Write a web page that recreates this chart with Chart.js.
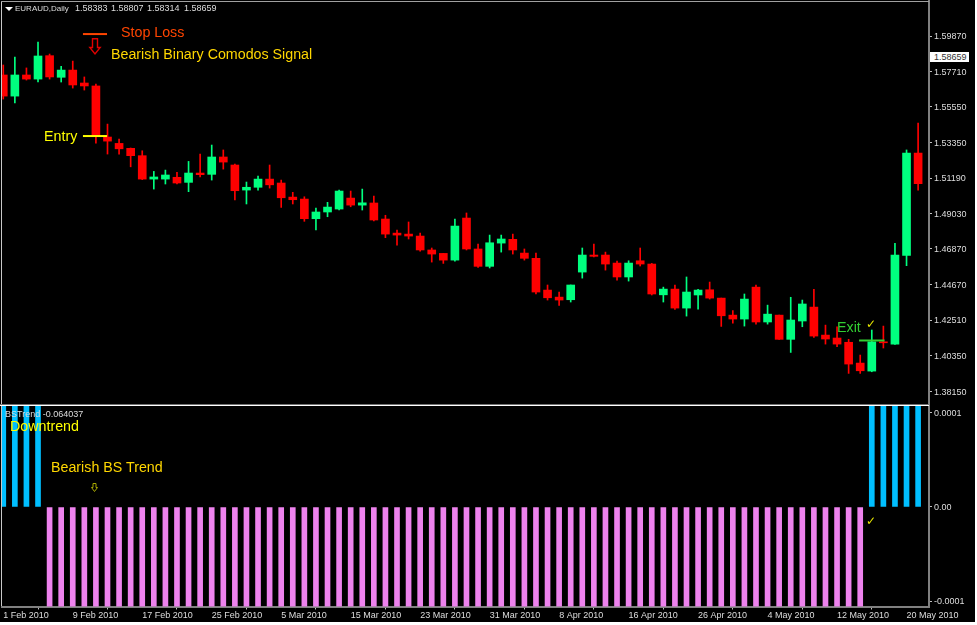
<!DOCTYPE html>
<html>
<head>
<meta charset="utf-8">
<title>EURAUD Daily</title>
<script src="https://cdn.jsdelivr.net/npm/chart.js@4"></script>
<style>
  html, body { margin: 0; padding: 0; background: #fff; }
  #terminal { position: relative; width: 975px; height: 622px; background: #000; overflow: hidden; font-family: "Liberation Sans", Arial, sans-serif; }
  canvas { position: absolute; left: 0; }
  #priceChart { top: 0; }
  #trendChart { top: 405px; }
  .note { position: absolute; white-space: nowrap; line-height: 1; }
  .rule { position: absolute; }
  svg.arrow { position: absolute; overflow: visible; }
</style>
</head>
<body>
<div id="terminal">
  <canvas id="priceChart" width="975" height="405"></canvas>
  <canvas id="trendChart" width="975" height="217"></canvas>

  <div class="rule" style="left:1px;top:1px;width:1px;height:605px;background:#c8c8c8"></div>
  <div class="rule" style="left:1px;top:1px;width:928px;height:1px;background:#a0a0a0"></div>
  <div class="rule" style="left:0;top:404px;width:929px;height:1px;background:#707070"></div>
  <div class="rule" style="left:0;top:405px;width:929px;height:1px;background:#fff"></div>

  <div class="note" style="left:5px;top:7px;font-size:0;color:#fff">
    <span style="display:inline-block;width:0;height:0;border-left:4px solid transparent;border-right:4px solid transparent;border-top:4px solid #fff"></span>
  </div>
  <div class="note" style="left:15px;top:4px;font-size:8px;line-height:9px;color:#ddd">EURAUD,Daily</div>
  <div class="note" style="left:75px;top:4px;font-size:9px;line-height:9px;color:#ddd">1.58383</div>
  <div class="note" style="left:111px;top:4px;font-size:9px;line-height:9px;color:#ddd">1.58807</div>
  <div class="note" style="left:147px;top:4px;font-size:9px;line-height:9px;color:#ddd">1.58314</div>
  <div class="note" style="left:184px;top:4px;font-size:9px;line-height:9px;color:#ddd">1.58659</div>

  <div class="note" style="left:121px;top:25px;font-size:14.25px;color:#ff4500">Stop Loss</div>
  <div class="note" style="left:111px;top:47px;font-size:14.25px;color:#ffd700">Bearish Binary Comodos Signal</div>
  <div class="note" style="left:44px;top:129px;font-size:14.25px;color:#ffff00">Entry</div>
  <div class="note" style="left:837px;top:320px;font-size:14.25px;color:#32cd32">Exit</div>
  <svg class="arrow" style="left:89px;top:38px" width="12" height="17" viewBox="0 0 12 17"><path d="M3.5 0.7H8.5V9.5H11.2L6 16L0.8 9.5H3.5Z" fill="none" stroke="#e00000" stroke-width="1.4"/></svg>
  <div class="note" style="left:866px;top:318px;font-family:'DejaVu Sans';font-size:12px;color:#e6e600">✓</div>

  <div class="note" style="left:5px;top:410px;font-size:9px;color:#ddd">BSTrend -0.064037</div>
  <div class="note" style="left:10px;top:419px;font-size:14.25px;color:#ffff00">Downtrend</div>
  <div class="note" style="left:51px;top:460px;font-size:14.25px;color:#ffd700">Bearish BS Trend</div>
  <svg class="arrow" style="left:91px;top:483px" width="7" height="9" viewBox="0 0 7 9"><path d="M2 0.5H5V4.5H6.5L3.5 8.5L0.5 4.5H2Z" fill="none" stroke="#a8a800" stroke-width="1"/></svg>
  <div class="note" style="left:866px;top:515px;font-family:'DejaVu Sans';font-size:12px;color:#e6e600">✓</div>

  <div class="note" style="left:930px;top:52px;width:39px;height:10px;line-height:10px;padding-left:4px;box-sizing:border-box;background:#fff;color:#333;font-size:9px">1.58659</div>
</div>

<script>
const opens = [
    1.5749, 1.5620, 1.5749, 1.5724, 1.5867, 1.5735, 1.5779, 1.5700, 1.5682, 1.5370,
    1.5331, 1.5301, 1.5256, 1.5113, 1.5113, 1.5124, 1.5093, 1.5150, 1.5142, 1.5248,
    1.5199, 1.5046, 1.5063, 1.5113, 1.5089, 1.5003, 1.4991, 1.4871, 1.4912, 1.4930,
    1.4997, 1.4954, 1.4967, 1.4869, 1.4783, 1.4777, 1.4765, 1.4680, 1.4659, 1.4618,
    1.4875, 1.4686, 1.4580, 1.4722, 1.4745, 1.4661, 1.4629, 1.4435, 1.4392, 1.4376,
    1.4545, 1.4649, 1.4649, 1.4600, 1.4515, 1.4614, 1.4594, 1.4406, 1.4441, 1.4325,
    1.4405, 1.4437, 1.4386, 1.4282, 1.4258, 1.4453, 1.4240, 1.4282, 1.4134, 1.4246,
    1.4331, 1.4160, 1.4142, 1.4116, 1.3989, 1.3940, 1.4119, 1.4105, 1.4647, 1.5272
];
const highs = [
    1.5810, 1.5859, 1.5792, 1.5950, 1.5877, 1.5802, 1.5834, 1.5737, 1.5694, 1.5449,
    1.5358, 1.5303, 1.5286, 1.5160, 1.5168, 1.5154, 1.5221, 1.5266, 1.5321, 1.5291,
    1.5205, 1.5095, 1.5132, 1.5199, 1.5107, 1.5032, 1.5005, 1.4936, 1.4971, 1.5046,
    1.5040, 1.5052, 1.5009, 1.4892, 1.4802, 1.4851, 1.4783, 1.4692, 1.4659, 1.4869,
    1.4906, 1.4716, 1.4771, 1.4771, 1.4777, 1.4686, 1.4661, 1.4466, 1.4423, 1.4466,
    1.4692, 1.4716, 1.4667, 1.4612, 1.4614, 1.4692, 1.4598, 1.4453, 1.4466, 1.4515,
    1.4439, 1.4484, 1.4386, 1.4309, 1.4411, 1.4466, 1.4343, 1.4282, 1.4391, 1.4374,
    1.4439, 1.4221, 1.4211, 1.4134, 1.4038, 1.4191, 1.4215, 1.4720, 1.5291, 1.5455
];
const lows = [
    1.5602, 1.5578, 1.5718, 1.5706, 1.5724, 1.5706, 1.5669, 1.5657, 1.5333, 1.5266,
    1.5266, 1.5188, 1.5110, 1.5052, 1.5083, 1.5083, 1.5036, 1.5127, 1.5107, 1.5174,
    1.4985, 1.4961, 1.5046, 1.5058, 1.4940, 1.4961, 1.4855, 1.4802, 1.4883, 1.4924,
    1.4944, 1.4924, 1.4857, 1.4755, 1.4710, 1.4747, 1.4673, 1.4606, 1.4598, 1.4612,
    1.4680, 1.4574, 1.4570, 1.4667, 1.4655, 1.4618, 1.4411, 1.4374, 1.4342, 1.4362,
    1.4508, 1.4637, 1.4557, 1.4496, 1.4490, 1.4582, 1.4405, 1.4362, 1.4317, 1.4276,
    1.4319, 1.4380, 1.4213, 1.4233, 1.4215, 1.4227, 1.4227, 1.4134, 1.4054, 1.4211,
    1.4146, 1.4105, 1.4089, 1.3926, 1.3926, 1.3936, 1.4081, 1.4103, 1.4584, 1.5046
];
const closes = [
    1.5620, 1.5749, 1.5724, 1.5865, 1.5737, 1.5779, 1.5688, 1.5682, 1.5376, 1.5345,
    1.5298, 1.5256, 1.5113, 1.5126, 1.5138, 1.5089, 1.5150, 1.5140, 1.5248, 1.5217,
    1.5042, 1.5063, 1.5113, 1.5078, 1.4999, 1.4987, 1.4871, 1.4912, 1.4942, 1.5040,
    1.4954, 1.4968, 1.4863, 1.4777, 1.4771, 1.4765, 1.4680, 1.4655, 1.4618, 1.4826,
    1.4686, 1.4580, 1.4724, 1.4747, 1.4680, 1.4629, 1.4423, 1.4388, 1.4374, 1.4466,
    1.4649, 1.4641, 1.4594, 1.4515, 1.4600, 1.4594, 1.4411, 1.4441, 1.4325, 1.4423,
    1.4435, 1.4386, 1.4278, 1.4258, 1.4380, 1.4240, 1.4288, 1.4134, 1.4252, 1.4350,
    1.4154, 1.4136, 1.4105, 1.3983, 1.3942, 1.4119, 1.4113, 1.4649, 1.5272, 1.5085
];
const bsTrend = [
    0.0002, 0.0002, 0.0002, 0.0002, -0.0002, -0.0002, -0.0002, -0.0002, -0.0002, -0.0002,
    -0.0002, -0.0002, -0.0002, -0.0002, -0.0002, -0.0002, -0.0002, -0.0002, -0.0002, -0.0002,
    -0.0002, -0.0002, -0.0002, -0.0002, -0.0002, -0.0002, -0.0002, -0.0002, -0.0002, -0.0002,
    -0.0002, -0.0002, -0.0002, -0.0002, -0.0002, -0.0002, -0.0002, -0.0002, -0.0002, -0.0002,
    -0.0002, -0.0002, -0.0002, -0.0002, -0.0002, -0.0002, -0.0002, -0.0002, -0.0002, -0.0002,
    -0.0002, -0.0002, -0.0002, -0.0002, -0.0002, -0.0002, -0.0002, -0.0002, -0.0002, -0.0002,
    -0.0002, -0.0002, -0.0002, -0.0002, -0.0002, -0.0002, -0.0002, -0.0002, -0.0002, -0.0002,
    -0.0002, -0.0002, -0.0002, -0.0002, -0.0002, 0.0002, 0.0002, 0.0002, 0.0002, 0.0002
];

const priceTicks = [1.5987, 1.5771, 1.5555, 1.5335, 1.5119, 1.4903, 1.4687, 1.4467, 1.4251, 1.4035, 1.3815];
const trendTicks = [0.0001, 0, -0.0001];
const trendTickLabels = ["0.0001", "0.00", "-0.0001"];
const dateTickBars = [0, 6, 12, 18, 24, 30, 36, 42, 48, 54, 60, 66, 72, 78];
const dateTickLabels = [
    "1 Feb 2010", "9 Feb 2010", "17 Feb 2010", "25 Feb 2010", "5 Mar 2010", "15 Mar 2010", "23 Mar 2010",
    "31 Mar 2010", "8 Apr 2010", "16 Apr 2010", "26 Apr 2010", "4 May 2010", "12 May 2010", "20 May 2010"
];

const stopLossLine = [{ x: 6.88, y: 1.5999 }, { x: 8.96, y: 1.5999 }];
const entryLine = [{ x: 6.88, y: 1.5376 }, { x: 8.96, y: 1.5376 }];
const exitLine = [{ x: 73.9, y: 1.4127 }, { x: 76.1, y: 1.4127 }];

const BAR_MIN = -0.11;
const BAR_MAX = 79.94;
const UP_COLOR = "#00ff7f";
const DOWN_COLOR = "#ff0000";
const axisFont = { family: "Liberation Sans", size: 9 };

function levelLine(data, color) {
    return {
        type: "line",
        data,
        borderColor: color,
        borderWidth: 2,
        pointRadius: 0,
        order: 0
    };
}

function sideAxis(min, max, ticksList, formatLabel) {
    return {
        position: "right",
        min,
        max,
        afterFit: (scale) => {
            scale.width = 46;
            scale.paddingTop = 0;
            scale.paddingBottom = 0;
        },
        afterBuildTicks: (scale) => { scale.ticks = ticksList.map((value) => ({ value })); },
        border: { color: "#808080", width: 2 },
        grid: { drawOnChartArea: false, color: "#c0c0c0", tickLength: 3 },
        ticks: { color: "#dddddd", font: axisFont, padding: 2, labelOffset: 0.7, callback: formatLabel }
    };
}

const candleColors = closes.map((close, i) => (close >= opens[i] ? UP_COLOR : DOWN_COLOR));

new Chart(document.getElementById("priceChart"), {
    type: "bar",
    data: {
        datasets: [
            levelLine(stopLossLine, "#ff4500"),
            levelLine(entryLine, "#ffff00"),
            levelLine(exitLine, "#32cd32"),
            {
                data: opens.map((open, i) => ({ x: i, y: [open, closes[i]] })),
                backgroundColor: candleColors,
                barThickness: 8,
                grouped: false,
                order: 1
            },
            {
                data: lows.map((low, i) => ({ x: i, y: [low, highs[i]] })),
                backgroundColor: candleColors,
                barThickness: 1,
                grouped: false,
                order: 2
            }
        ]
    },
    options: {
        responsive: false,
        animation: false,
        devicePixelRatio: 1,
        layout: { padding: { left: 2, right: 0, top: 1, bottom: 1 } },
        plugins: { legend: { display: false }, tooltip: { enabled: false } },
        scales: {
            x: { type: "linear", display: false, offset: false, min: BAR_MIN, max: BAR_MAX },
            y: sideAxis(1.3739, 1.6201, priceTicks, (value) => value.toFixed(5))
        }
    }
});

new Chart(document.getElementById("trendChart"), {
    type: "bar",
    data: {
        datasets: [
            {
                data: bsTrend.map((value, i) => ({ x: i, y: value })),
                backgroundColor: bsTrend.map((value) => (value > 0 ? "#00bfff" : "#ee82ee")),
                barThickness: 5
            }
        ]
    },
    options: {
        responsive: false,
        animation: false,
        devicePixelRatio: 1,
        layout: { padding: { left: 2, right: 0, top: 1, bottom: 0 } },
        plugins: { legend: { display: false }, tooltip: { enabled: false } },
        scales: {
            x: {
                type: "linear",
                offset: false,
                min: BAR_MIN,
                max: BAR_MAX,
                afterFit: (scale) => {
                    scale.height = 15.5;
                    scale.paddingLeft = 0;
                    scale.paddingRight = 0;
                },
                afterBuildTicks: (scale) => { scale.ticks = dateTickBars.map((value) => ({ value })); },
                border: { color: "#808080", width: 2 },
                grid: { drawOnChartArea: false, color: "#c0c0c0", tickLength: 3 },
                ticks: {
                    color: "#dddddd",
                    font: axisFont,
                    padding: 1,
                    align: "start",
                    maxRotation: 0,
                    autoSkip: false,
                    callback: (value) => dateTickLabels[dateTickBars.indexOf(value)]
                }
            },
            y: sideAxis(-0.0001055, 0.000107, trendTicks, (value) => trendTickLabels[trendTicks.indexOf(value)])
        }
    }
});
</script>
</body>
</html>
